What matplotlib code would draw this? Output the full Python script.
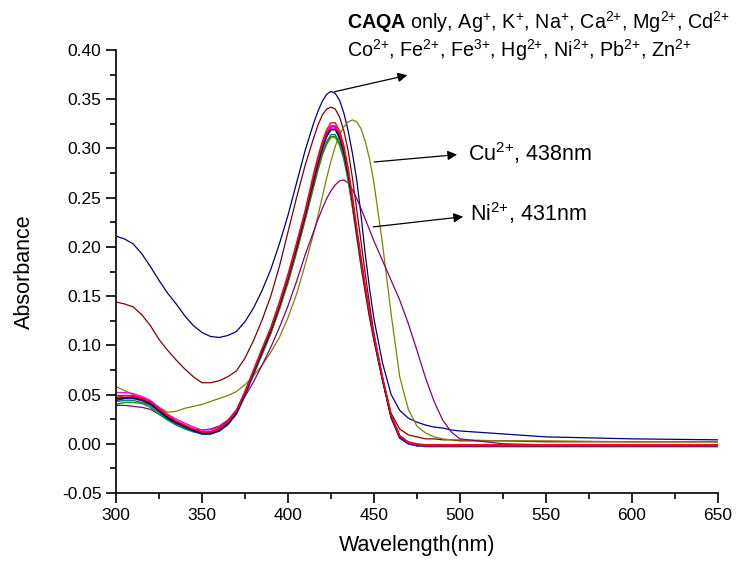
import numpy as np
import matplotlib.pyplot as plt
from matplotlib.ticker import MultipleLocator

plt.rcParams['font.family'] = ['Liberation Sans', 'DejaVu Sans']
plt.rcParams['mathtext.fontset'] = 'custom'
plt.rcParams['mathtext.rm'] = 'Liberation Sans'
plt.rcParams['mathtext.it'] = 'Liberation Sans'
plt.rcParams['mathtext.bf'] = 'Liberation Sans:bold'

# wavelength grid (nm), denser around the absorption maxima
wl = [300, 305, 310, 315, 320, 325, 330, 335, 340, 345,
      350, 355, 360, 365, 370, 375, 380, 385, 390, 395,
      400, 405, 410, 415, 417.5, 420, 422.5, 425, 427.5, 430,
      432.5, 435, 437.5, 440, 442.5, 445, 447.5, 450, 455, 460,
      465, 470, 475, 480, 485, 490, 495, 500, 525, 550,
      600, 650]

# outlying spectra
navy_curve = [0.211, 0.208, 0.203, 0.193, 0.180, 0.166, 0.153, 0.142, 0.130, 0.120,
              0.113, 0.109, 0.108, 0.110, 0.114, 0.124, 0.138, 0.156, 0.177, 0.203,
              0.232, 0.265, 0.298, 0.326, 0.338, 0.348, 0.355, 0.358, 0.356, 0.349,
              0.336, 0.318, 0.295, 0.268, 0.232, 0.192, 0.157, 0.127, 0.082, 0.050,
              0.034, 0.026, 0.022, 0.019, 0.017, 0.016, 0.014, 0.013, 0.010, 0.007,
              0.005, 0.004]
wine_curve = [0.144, 0.142, 0.139, 0.131, 0.120, 0.106, 0.095, 0.085, 0.076, 0.068,
              0.062, 0.062, 0.064, 0.068, 0.074, 0.087, 0.105, 0.126, 0.150, 0.180,
              0.215, 0.250, 0.283, 0.311, 0.324, 0.334, 0.340, 0.342, 0.340, 0.332,
              0.318, 0.298, 0.270, 0.238, 0.205, 0.172, 0.141, 0.112, 0.066, 0.031,
              0.015, 0.009, 0.007, 0.005, 0.005, 0.004, 0.004, 0.003, 0.003, 0.002,
              0.002, 0.002]
cu_curve = [0.058, 0.054, 0.050, 0.046, 0.042, 0.037, 0.032, 0.033, 0.036, 0.038,
            0.040, 0.043, 0.046, 0.049, 0.053, 0.060, 0.069, 0.080, 0.093, 0.108,
            0.128, 0.152, 0.182, 0.214, 0.232, 0.251, 0.270, 0.287, 0.302, 0.314,
            0.322, 0.327, 0.329, 0.327, 0.320, 0.307, 0.289, 0.265, 0.203, 0.132,
            0.068, 0.035, 0.018, 0.011, 0.007, 0.005, 0.004, 0.004, 0.003, 0.003,
            0.002, 0.002]
ni_curve = [0.039, 0.039, 0.038, 0.037, 0.035, 0.030, 0.025, 0.021, 0.017, 0.015,
            0.014, 0.015, 0.018, 0.024, 0.034, 0.048, 0.063, 0.080, 0.098, 0.118,
            0.140, 0.165, 0.192, 0.216, 0.228, 0.239, 0.249, 0.257, 0.263, 0.267,
            0.268, 0.265, 0.258, 0.249, 0.239, 0.228, 0.217, 0.206, 0.186, 0.166,
            0.146, 0.122, 0.095, 0.067, 0.043, 0.024, 0.012, 0.005, 0.000, -0.001,
            -0.001, -0.001]

# main cluster (CAQA only and the ions that leave it unchanged)
cluster_colors = ['#ff8000', '#00a000', '#008080', '#ff00ff', '#0000ff', 'black', '#ff0080', '#ff0000']
cluster_values = [
    [0.045, 0.046, 0.046, 0.044, 0.040, 0.033, 0.026, 0.021, 0.017, 0.014,
     0.011, 0.011, 0.014, 0.020, 0.031, 0.049, 0.071, 0.091, 0.112, 0.136,
     0.163, 0.194, 0.227, 0.261, 0.278, 0.293, 0.304, 0.311, 0.311, 0.303,
     0.289, 0.267, 0.240, 0.210, 0.180, 0.153, 0.128, 0.106, 0.065, 0.027,
     0.007, 0.001, -0.001, -0.002, -0.002, -0.002, -0.002, -0.002, -0.002, -0.002,
     -0.002, -0.002],
    [0.040, 0.042, 0.042, 0.041, 0.037, 0.030, 0.024, 0.019, 0.015, 0.012,
     0.010, 0.010, 0.013, 0.019, 0.030, 0.049, 0.070, 0.091, 0.112, 0.137,
     0.164, 0.195, 0.228, 0.262, 0.279, 0.294, 0.305, 0.312, 0.312, 0.304,
     0.290, 0.268, 0.241, 0.211, 0.181, 0.154, 0.128, 0.105, 0.064, 0.026,
     0.006, 0.000, -0.002, -0.003, -0.003, -0.003, -0.003, -0.003, -0.003, -0.003,
     -0.003, -0.003],
    [0.043, 0.044, 0.044, 0.042, 0.039, 0.032, 0.025, 0.020, 0.016, 0.013,
     0.010, 0.010, 0.013, 0.020, 0.030, 0.049, 0.071, 0.092, 0.113, 0.138,
     0.165, 0.196, 0.229, 0.264, 0.281, 0.296, 0.307, 0.314, 0.314, 0.306,
     0.292, 0.270, 0.242, 0.212, 0.182, 0.155, 0.129, 0.106, 0.065, 0.027,
     0.006, 0.000, -0.002, -0.002, -0.002, -0.002, -0.002, -0.002, -0.002, -0.002,
     -0.002, -0.002],
    [0.052, 0.052, 0.051, 0.048, 0.044, 0.037, 0.030, 0.025, 0.021, 0.017,
     0.014, 0.014, 0.017, 0.023, 0.034, 0.053, 0.074, 0.095, 0.116, 0.141,
     0.169, 0.200, 0.233, 0.269, 0.286, 0.301, 0.313, 0.320, 0.320, 0.312,
     0.297, 0.275, 0.247, 0.215, 0.185, 0.157, 0.131, 0.108, 0.066, 0.028,
     0.008, 0.001, -0.001, -0.001, -0.001, -0.001, -0.001, -0.001, -0.001, -0.001,
     -0.001, -0.001],
    [0.044, 0.046, 0.046, 0.044, 0.040, 0.033, 0.026, 0.021, 0.017, 0.013,
     0.010, 0.010, 0.013, 0.020, 0.031, 0.050, 0.072, 0.094, 0.116, 0.141,
     0.170, 0.201, 0.234, 0.271, 0.288, 0.303, 0.315, 0.322, 0.322, 0.314,
     0.299, 0.276, 0.248, 0.216, 0.186, 0.157, 0.131, 0.107, 0.065, 0.027,
     0.006, 0.000, -0.002, -0.002, -0.002, -0.002, -0.002, -0.002, -0.002, -0.002,
     -0.002, -0.002],
    [0.046, 0.047, 0.047, 0.045, 0.041, 0.034, 0.027, 0.022, 0.018, 0.014,
     0.011, 0.011, 0.014, 0.021, 0.032, 0.051, 0.073, 0.094, 0.115, 0.140,
     0.168, 0.199, 0.232, 0.268, 0.285, 0.300, 0.312, 0.319, 0.319, 0.311,
     0.296, 0.274, 0.246, 0.215, 0.185, 0.157, 0.131, 0.108, 0.066, 0.028,
     0.008, 0.001, -0.001, -0.002, -0.002, -0.002, -0.002, -0.002, -0.002, -0.002,
     -0.002, -0.002],
    [0.049, 0.049, 0.049, 0.047, 0.043, 0.035, 0.029, 0.023, 0.019, 0.015,
     0.012, 0.012, 0.015, 0.022, 0.033, 0.052, 0.074, 0.096, 0.117, 0.142,
     0.170, 0.202, 0.235, 0.272, 0.289, 0.304, 0.316, 0.323, 0.323, 0.315,
     0.300, 0.278, 0.249, 0.217, 0.187, 0.158, 0.132, 0.109, 0.067, 0.029,
     0.008, 0.001, -0.001, -0.002, -0.002, -0.002, -0.002, -0.002, -0.002, -0.002,
     -0.002, -0.002],
    [0.047, 0.049, 0.048, 0.046, 0.042, 0.036, 0.029, 0.023, 0.019, 0.015,
     0.012, 0.012, 0.016, 0.023, 0.034, 0.053, 0.075, 0.097, 0.118, 0.144,
     0.172, 0.204, 0.237, 0.275, 0.292, 0.307, 0.319, 0.326, 0.326, 0.318,
     0.303, 0.280, 0.251, 0.219, 0.189, 0.160, 0.134, 0.111, 0.068, 0.029,
     0.008, 0.002, 0.000, -0.001, -0.001, -0.001, -0.001, -0.001, -0.001, -0.001,
     -0.001, -0.001],
]

fig = plt.figure(figsize=(7.4, 5.62), dpi=100)
ax = fig.add_axes([0.1568, 0.1228, 0.8132, 0.7882])

ax.plot(wl, navy_curve, color='#000080', lw=0.9)
ax.plot(wl, wine_curve, color='#800000', lw=0.9)
ax.plot(wl, cu_curve, color='#808000', lw=0.9)
ax.plot(wl, ni_curve, color='#800080', lw=0.9)
for c, vals in zip(cluster_colors, cluster_values):
    ax.plot(wl, vals, color=c, lw=1.0)

ax.set_xlim(300, 650)
ax.set_ylim(-0.05, 0.40)
ax.xaxis.set_major_locator(MultipleLocator(50))
ax.xaxis.set_minor_locator(MultipleLocator(25))
ax.yaxis.set_major_locator(MultipleLocator(0.05))
ax.yaxis.set_minor_locator(MultipleLocator(0.025))
ax.yaxis.set_major_formatter(plt.FormatStrFormatter('%.2f'))
ax.spines['top'].set_visible(False)
ax.spines['right'].set_visible(False)
for s in ('left', 'bottom'):
    ax.spines[s].set_linewidth(1.2)
ax.tick_params(which='major', length=7, width=1.2, labelsize=12.5, direction='out')
ax.tick_params(which='minor', length=4, width=1.2, direction='out')
ax.set_xlabel('Wavelength(nm)', fontsize=15.5, labelpad=9)
ax.set_ylabel('Absorbance', fontsize=15.5, labelpad=19)

# annotations
fs = 14.2
line1 = (r'$\mathbf{CAQA}$ only, Ag$^{+}$, K$^{+}$, Na$^{+}$, Ca$^{2{+}}$, '
         r'Mg$^{2{+}}$, Cd$^{2{+}}$')
line2 = (r'Co$^{2{+}}$, Fe$^{2{+}}$, Fe$^{3{+}}$, Hg$^{2{+}}$, '
         r'Ni$^{2{+}}$, Pb$^{2{+}}$, Zn$^{2{+}}$')
fig.text(347 / 740, 1 - 22 / 562, line1, fontsize=fs, va='center', ha='left')
fig.text(347 / 740, 1 - 50 / 562, line2, fontsize=fs, va='center', ha='left')

arrow = dict(arrowstyle='-|>', color='black', lw=0.9, mutation_scale=14)
ax.annotate('', xy=(471, 0.375), xytext=(425.5, 0.357), arrowprops=arrow, annotation_clip=False)
ax.annotate('', xy=(500, 0.294), xytext=(448.5, 0.286), arrowprops=arrow)
ax.annotate('', xy=(503.5, 0.231), xytext=(448, 0.220), arrowprops=arrow)
ax.text(504.5, 0.295, r'Cu$^{2{+}}$, 438nm', fontsize=15.5, va='center', ha='left')
ax.text(506, 0.234, r'Ni$^{2{+}}$, 431nm', fontsize=15.5, va='center', ha='left')

fig.savefig('out.png', dpi=100)
